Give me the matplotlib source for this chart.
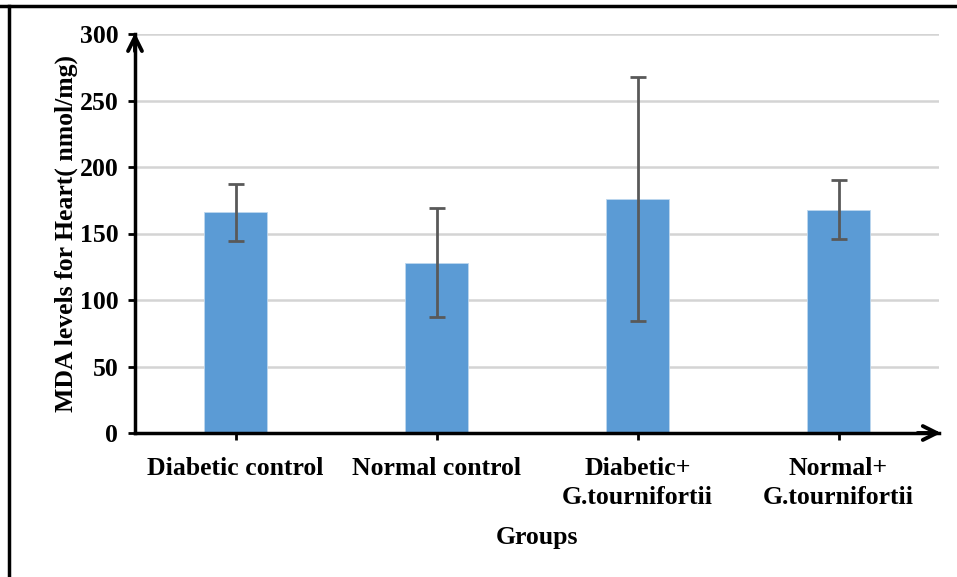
import numpy as np
import matplotlib.pyplot as plt
from matplotlib.lines import Line2D

# MDA values per group (nmol/mg) with error bars
groups = ['Diabetic control', 'Normal control', 'Diabetic+\nG.tournifortii', 'Normal+\nG.tournifortii']
mda_mean = [166, 128, 176, 168]
mda_err = [21.5, 41, 92, 22]

plt.rcParams['font.family'] = ['Liberation Serif', 'DejaVu Serif']
plt.rcParams['font.weight'] = 'bold'

W, H = 957, 577
fig = plt.figure(figsize=(W / 100, H / 100), dpi=100)
ax = fig.add_axes([135 / W, 1 - 433 / H, (939 - 135) / W, (433 - 34) / H])

x = np.arange(len(groups))
ax.bar(x, mda_mean, width=0.315, color='#5b9bd5', edgecolor='#bdd7ee', linewidth=0.6, zorder=2)
ax.errorbar(x, mda_mean, yerr=mda_err, fmt='none', ecolor='#595959',
            elinewidth=2, capsize=5.5, capthick=2, zorder=3)

ax.set_xlim(-0.5, 3.5)
ax.set_ylim(0, 300)
ax.set_yticks(np.arange(0, 301, 50))
ax.set_xticks(x)
ax.set_xticklabels(groups, fontsize=18.5, fontweight='bold', linespacing=1.35)
ax.tick_params(axis='y', labelsize=18.5, length=5, width=2, pad=7, color='black')
ax.tick_params(axis='x', length=5, width=2, pad=12, color='black')
for lbl in ax.get_yticklabels():
    lbl.set_fontweight('bold')

ax.grid(axis='y', color='#d4d4d4', linewidth=1.8, zorder=0)
ax.set_axisbelow(True)

for s in ['top', 'right']:
    ax.spines[s].set_visible(False)
ax.spines['left'].set_linewidth(2.5)
ax.spines['bottom'].set_linewidth(2.5)

# open arrowheads on both axes
ax.annotate('', xy=(0, 1.01), xycoords='axes fraction', xytext=(0, 0.95),
            arrowprops=dict(arrowstyle='->,head_length=1.0,head_width=0.5', lw=2.8, color='black'))
ax.annotate('', xy=(1.006, 0), xycoords='axes fraction', xytext=(0.97, 0),
            arrowprops=dict(arrowstyle='->,head_length=1.0,head_width=0.5', lw=2.8, color='black'))

ax.set_ylabel('MDA levels for Heart( nmol/mg)', fontsize=18.5, fontweight='bold', labelpad=1)
ax.set_xlabel('Groups', fontsize=18.5, fontweight='bold', labelpad=12)

# outer frame (top and left edges)
fig.add_artist(Line2D([0, 1], [1 - 6 / H, 1 - 6 / H], transform=fig.transFigure, color='black', lw=2.5))
fig.add_artist(Line2D([9 / W, 9 / W], [0, 1 - 6 / H], transform=fig.transFigure, color='black', lw=2.5))

fig.savefig('out.png', dpi=100)
